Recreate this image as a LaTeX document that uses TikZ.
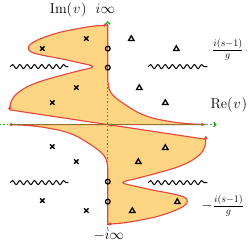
\documentclass[tikz,border=0pt]{standalone}
\usetikzlibrary{arrows.meta,decorations.pathmorphing}
\definecolor{fillc}{RGB}{254,213,130}
\definecolor{cred}{RGB}{234,68,58}
\definecolor{cgreen}{RGB}{30,170,30}
\begin{document}
\begin{tikzpicture}[x=1pt,y=1pt,
  every node/.style={font=\Large,inner sep=0pt},
  contour/.style={draw=cred,line width=1.1pt,line join=round},
  tipr/.style={cred,line width=1.1pt,-{Latex[length=4pt,width=3.8pt]}},
  axisline/.style={cgreen,line width=1.3pt,dash pattern=on 1.5pt off 2pt},
  lobe/.style={insert path={-- plot[smooth,tension=0.55] coordinates{(0,99.5) (-18,98) (-47,92.5) (-67,86) (-76.5,81) (-79.5,77) (-77,72.8) (-66,69.5) (-45,65.5) (-27,61.5) (-18.5,59.6) (-15,58) (-18.5,56.2) (-27,54.3) (-48,48.8) (-68,43) (-83,36.5) (-93,29) (-97,22) (-98,14.7)}}},
  rcurve/.style={insert path={-- plot[smooth,tension=0.55] coordinates{(98,0) (80,0.9) (64.5,2.7) (45,6.5) (30.5,12) (18,19.5) (10.5,24.7) (5,29.5) (1.5,35) (0,44)}}},
  wig/.style={decorate,decoration={snake,amplitude=2pt,segment length=7.3pt},line width=1pt},
  xm/.pic={\draw[line width=1.3pt] (-2.2,-2.2) -- (2.2,2.2) (-2.2,2.2) -- (2.2,-2.2);},
  tri/.pic={\draw[line width=1.3pt,line join=miter] (-2.8,-2) -- (2.8,-2) -- (0,2.8) -- cycle;},
  circm/.style={draw=black,line width=1.2pt,fill=none}
]
\useasboundingbox (-107.8,-120.4) rectangle (141.2,124.6);
% fills
\fill[fillc] (0,99.5) [lobe] -- (0,0) -- (98,0) [rcurve] -- cycle;
\begin{scope}[rotate=180]
\fill[fillc] (0,99.5) [lobe] -- (0,0) -- (98,0) [rcurve] -- cycle;
\end{scope}
% red contours
\draw[contour] (0,99.5) [lobe] -- (98,-14.7);
\draw[contour] (0,0) -- (98,0) [rcurve] -- (0,99.5);
\begin{scope}[rotate=180]
\draw[contour] (0,99.5) [lobe];
\draw[contour] (0,0) -- (98,0) [rcurve] -- (0,99.5);
\end{scope}
% red arrow tips
\draw[tipr] (-98,14.7) -- (-98,19.5);
\draw[tipr] (-5,99.5) -- (0,99.5);
\draw[tipr] (92,0) -- (97.5,0);
\draw[tipr] (6,-0.9) -- (0,0);
\draw[tipr] (-98,0) -- (-93.5,0);
\draw[tipr] (0,-99.5) -- (5,-99.5);
\draw[tipr] (98,-14.7) -- (98,-10.5);
% axes
\draw[axisline,-{Straight Barb[length=2.2pt,width=4.5pt]}] (-107.8,0) -- (109,0);
\draw[axisline,-{Straight Barb[length=2.2pt,width=4.5pt]}] (0,-104) -- (0,103.5);
% circles
\draw[circm] (0,76) circle (2.4);
\draw[circm] (0,57) circle (2.4);
\draw[circm] (0,-57) circle (2.4);
\draw[circm] (0,-77) circle (2.4);
% wiggles
\draw[wig] (-97.5,58) -- (-39.5,58);
\draw[wig] (40.5,58) -- (99.5,58);
\draw[wig] (-97.5,-58) -- (-39.5,-58);
\draw[wig] (40.5,-58) -- (99.5,-58);
% crosses
\foreach \p in {(-21.5,86),(-65.5,76),(-31.5,37),(-55.5,22),(-55.5,-22),(-31.5,-37),(-65.5,-76),(-21.5,-86)}
  \pic at \p {xm};
% triangles
\foreach \p in {(23.5,86),(68.5,76),(31.5,37),(57.5,22),(57.5,-23),(30.5,-37),(69.5,-77),(24.5,-86)}
  \pic at \p {tri};
% labels
\node[anchor=base] (im) at (-39.5,110.8) {$\mathrm{Im}(\mkern1mu v\mkern1mu)$};
\node[anchor=base] (ipinf) at (-2.5,110.8) {$i\infty$};
\node[anchor=base] (iminf) at (1,-115) {$-i\infty$};
\node[anchor=base] (re) at (121,16.3) {$\mathrm{Re}(\mkern1mu v\mkern1mu)$};
\node[anchor=base] (fup) at (120,71.1) {$\frac{i(s-1)}{g}$};
\node[anchor=base] (fdn) at (115,-84.9) {$-\frac{i(s-1)}{g}$};
\end{tikzpicture}
\end{document}
